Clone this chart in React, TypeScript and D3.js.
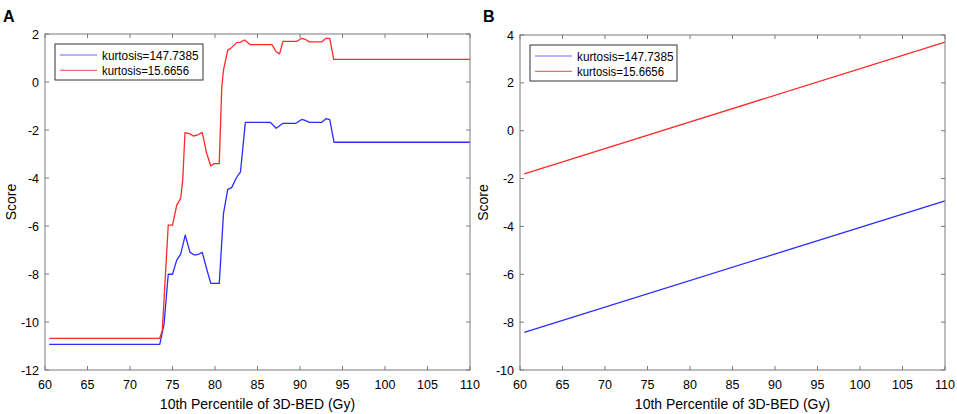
import React from "react";
import * as d3 from "d3";

// Panel A data
const redAX = [60.5, 73.5, 73.8, 74.5, 75.0, 75.5, 75.96, 76.2, 76.47, 77.0, 77.45, 78.0, 78.5, 79.0, 79.5, 79.9, 80.5, 80.8, 81.0, 81.5, 81.85, 82.55, 83.0, 83.5, 84.1, 86.7, 87.2, 87.6, 88.0, 89.6, 90.2, 90.6, 91.1, 92.55, 93.06, 93.5, 93.97, 110];
const redAY = [-10.68, -10.68, -10.35, -5.96, -5.96, -5.13, -4.85, -4.1, -2.11, -2.15, -2.25, -2.2, -2.1, -2.95, -3.5, -3.4, -3.4, -0.19, 0.5, 1.33, 1.4, 1.64, 1.66, 1.75, 1.56, 1.56, 1.26, 1.17, 1.69, 1.69, 1.82, 1.78, 1.67, 1.67, 1.82, 1.82, 0.94, 0.94];
const blueAX = [60.5, 73.5, 74.0, 74.5, 75.0, 75.5, 75.96, 76.5, 77.06, 77.6, 78.1, 78.5, 79.0, 79.5, 80.5, 81.0, 81.5, 81.96, 82.5, 83.0, 83.57, 86.5, 87.2, 88.0, 89.5, 90.2, 90.6, 91.1, 92.55, 93.06, 93.5, 94.0, 110];
const blueAY = [-10.93, -10.93, -10.1, -8.01, -8.01, -7.42, -7.17, -6.38, -7.1, -7.21, -7.17, -7.1, -7.76, -8.39, -8.39, -5.47, -4.47, -4.4, -4.0, -3.74, -1.68, -1.68, -1.93, -1.72, -1.72, -1.56, -1.6, -1.68, -1.68, -1.53, -1.57, -2.51, -2.51];

// Panel B data
const bX = [60.5, 110];
const blueBY = [-8.43, -2.93];
const redBY = [-1.8, 3.7];

const xTicks = [60, 65, 70, 75, 80, 85, 90, 95, 100, 105, 110];
const yTicksA = [2, 0, -2, -4, -6, -8, -10, -12];
const yTicksB = [4, 2, 0, -2, -4, -6, -8, -10];
const legendLabels = ["kurtosis=147.7385", "kurtosis=15.6656"];
const xLabel = "10th Percentile of 3D-BED (Gy)";
const yLabel = "Score";

const BLUE = "#2b2bff";
const RED = "#ff2b2b";
const AXIS = "#7a7a7a";
const FONT = "'Liberation Sans', Arial, sans-serif";

type PanelProps = {
  left: number;
  right: number;
  top: number;
  bottom: number;
  yDomain: [number, number];
  yTicks: number[];
  series: { xs: number[]; ys: number[]; color: string }[];
  letter: string;
  letterX: number;
  scoreX: number;
  legendW: number;
};

function Panel(p: PanelProps) {
  const x = d3.scaleLinear().domain([60, 110]).range([p.left, p.right]);
  const y = d3.scaleLinear().domain(p.yDomain).range([p.bottom, p.top]);
  const line = d3
    .line<[number, number]>()
    .x((d) => x(d[0]))
    .y((d) => y(d[1]));
  const tl = 4;
  const lgX = p.left + 10;
  const lgY = p.top + 10;
  return (
    <g>
      {p.series.map((s, i) => (
        <path
          key={i}
          d={line(s.xs.map((v, j) => [v, s.ys[j]] as [number, number])) || ""}
          fill="none"
          stroke={s.color}
          strokeWidth={1.3}
          strokeLinejoin="round"
        />
      ))}
      <rect x={p.left} y={p.top} width={p.right - p.left} height={p.bottom - p.top} fill="none" stroke={AXIS} strokeWidth={1} />
      {xTicks.map((t) => (
        <g key={"x" + t}>
          <line x1={x(t)} x2={x(t)} y1={p.bottom} y2={p.bottom - tl} stroke={AXIS} />
          <line x1={x(t)} x2={x(t)} y1={p.top} y2={p.top + tl} stroke={AXIS} />
          <text x={x(t)} y={p.bottom + 19} textAnchor="middle" fontSize={12.5} fontFamily={FONT} fill="#000">
            {t}
          </text>
        </g>
      ))}
      {p.yTicks.map((t) => (
        <g key={"y" + t}>
          <line x1={p.left} x2={p.left + tl} y1={y(t)} y2={y(t)} stroke={AXIS} />
          <line x1={p.right} x2={p.right - tl} y1={y(t)} y2={y(t)} stroke={AXIS} />
          <text x={p.left - 6} y={y(t) + 4.5} textAnchor="end" fontSize={12.5} fontFamily={FONT} fill="#000">
            {t}
          </text>
        </g>
      ))}
      <text x={(p.left + p.right) / 2} y={409} textAnchor="middle" fontSize={14} fontFamily={FONT} fill="#000">
        {xLabel}
      </text>
      <text
        transform={`translate(${p.scoreX},${(p.top + p.bottom) / 2}) rotate(-90)`}
        textAnchor="middle"
        fontSize={14}
        fontFamily={FONT}
        fill="#000"
      >
        {yLabel}
      </text>
      <text x={p.letterX} y={22} fontSize={16} fontWeight="bold" fontFamily={FONT} fill="#000">
        {p.letter}
      </text>
      <rect x={lgX} y={lgY} width={p.legendW} height={36} fill="#fff" stroke="#333" strokeWidth={1} />
      {legendLabels.map((lab, i) => (
        <g key={lab}>
          <line
            x1={lgX + 5}
            x2={lgX + 42}
            y1={lgY + 11 + i * 15.4}
            y2={lgY + 11 + i * 15.4}
            stroke={i === 0 ? BLUE : RED}
            strokeWidth={1.2}
            opacity={0.7}
          />
          <text
            x={lgX + 47}
            y={lgY + 15.5 + i * 15.4}
            fontSize={12.5}
            fontFamily={FONT}
            fill="#000"
            textLength={i === 0 ? 96.5 : 87}
            lengthAdjust="spacingAndGlyphs"
          >
            {lab}
          </text>
        </g>
      ))}
    </g>
  );
}

export default function App() {
  return (
    <svg width={957} height={414} style={{ position: "absolute", left: 0, top: 0, background: "#fff" }}>
      <rect x={0} y={0} width={957} height={414} fill="#fff" />
      <Panel
        left={45}
        right={470}
        top={34}
        bottom={370}
        yDomain={[-12, 2]}
        yTicks={yTicksA}
        series={[
          { xs: blueAX, ys: blueAY, color: BLUE },
          { xs: redAX, ys: redAY, color: RED },
        ]}
        letter="A"
        letterX={3}
        scoreX={16}
        legendW={148}
      />
      <Panel
        left={520}
        right={945}
        top={35}
        bottom={370}
        yDomain={[-10, 4]}
        yTicks={yTicksB}
        series={[
          { xs: bX, ys: blueBY, color: BLUE },
          { xs: bX, ys: redBY, color: RED },
        ]}
        letter="B"
        letterX={483}
        scoreX={488}
        legendW={147}
      />
    </svg>
  );
}
